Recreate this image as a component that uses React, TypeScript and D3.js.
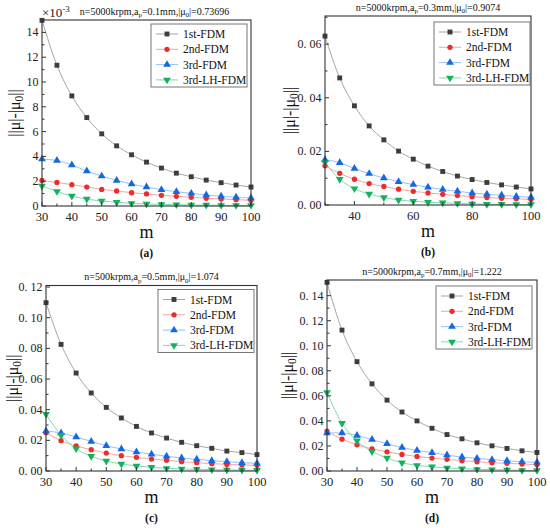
import React from 'react';
import * as d3 from 'd3';

// x values shared by every panel
const mValues = [30, 35, 40, 45, 50, 55, 60, 65, 70, 75, 80, 85, 90, 95, 100];
const seriesNames = ['1st-FDM', '2nd-FDM', '3rd-FDM', '3rd-LH-FDM'];

// panel titles
const speeds = ['5000', '5000', '500', '5000'];
const apValues = ['0.1', '0.3', '0.5', '0.7'];
const mu0Values = ['0.73696', '0.9074', '1.074', '1.222'];
const captions = ['(a)', '(b)', '(c)', '(d)'];

// (a) values in units of 1e-3
const a1st = [14.97, 11.35, 8.88, 7.13, 5.82, 4.85, 4.13, 3.54, 3.06, 2.65, 2.36, 2.09, 1.88, 1.69, 1.53];
const a2nd = [2.06, 1.9, 1.72, 1.53, 1.34, 1.21, 1.07, 0.97, 0.86, 0.78, 0.7, 0.62, 0.56, 0.51, 0.46];
const a3rd = [3.78, 3.67, 3.3, 2.82, 2.41, 2.06, 1.77, 1.53, 1.31, 1.15, 1.02, 0.88, 0.78, 0.7, 0.64];
const aLH = [1.61, 1.18, 0.8, 0.56, 0.4, 0.3, 0.21, 0.16, 0.13, 0.11, 0.08, 0.08, 0.05, 0.05, 0.05];

// (b)
const b1st = [0.063, 0.0474, 0.037, 0.0295, 0.0243, 0.0201, 0.0171, 0.0145, 0.0125, 0.0108, 0.0095, 0.0084, 0.0075, 0.0067, 0.006];
const b2nd = [0.0146, 0.0118, 0.0096, 0.008, 0.0069, 0.0059, 0.0051, 0.0045, 0.004, 0.0035, 0.0031, 0.0028, 0.0025, 0.0023, 0.0021];
const b3rd = [0.0169, 0.0158, 0.0136, 0.0117, 0.0101, 0.0087, 0.0076, 0.0066, 0.0058, 0.0051, 0.0045, 0.004, 0.0036, 0.0032, 0.0029];
const bLH = [0.0158, 0.0096, 0.0061, 0.0041, 0.0028, 0.0019, 0.0014, 0.001, 0.0008, 0.0006, 0.0004, 0.0003, 0.0003, 0.0002, 0.0002];

// (c)
const c1st = [0.1098, 0.0826, 0.0639, 0.0509, 0.0415, 0.0346, 0.0291, 0.0248, 0.0215, 0.0187, 0.0165, 0.0148, 0.013, 0.012, 0.0107];
const c2nd = [0.025, 0.0198, 0.0163, 0.0139, 0.0117, 0.01, 0.0089, 0.0078, 0.007, 0.0061, 0.0054, 0.0048, 0.0043, 0.0039, 0.0037];
const c3rd = [0.0261, 0.0248, 0.0222, 0.0193, 0.0165, 0.0143, 0.0124, 0.0109, 0.0096, 0.0085, 0.0076, 0.0067, 0.0061, 0.0054, 0.005];
const cLH = [0.037, 0.0233, 0.0146, 0.0096, 0.0065, 0.0046, 0.0033, 0.0024, 0.0017, 0.0013, 0.0011, 0.0009, 0.0007, 0.0006, 0.0005];

// (d)
const d1st = [0.1506, 0.1125, 0.0873, 0.0696, 0.0566, 0.0471, 0.04, 0.0341, 0.0291, 0.0257, 0.0225, 0.0201, 0.018, 0.0161, 0.0148];
const d2nd = [0.0318, 0.0254, 0.0209, 0.0177, 0.0153, 0.0132, 0.0116, 0.0103, 0.0093, 0.0082, 0.0074, 0.0066, 0.0061, 0.0056, 0.005];
const d3rd = [0.0304, 0.0304, 0.0283, 0.0251, 0.0217, 0.0188, 0.0164, 0.0146, 0.0127, 0.0111, 0.0101, 0.009, 0.0082, 0.0074, 0.0069];
const dLH = [0.0627, 0.0381, 0.0241, 0.0156, 0.0103, 0.0066, 0.0045, 0.0034, 0.0024, 0.0019, 0.0013, 0.0011, 0.0008, 0.0005, 0.0005];

// axis ticks
const aYTicks = [0, 2, 4, 6, 8, 10, 12, 14];
const bYTicks = [0, 0.02, 0.04, 0.06];
const cYTicks = [0, 0.02, 0.04, 0.06, 0.08, 0.1, 0.12];
const dYTicks = [0, 0.02, 0.04, 0.06, 0.08, 0.1, 0.12, 0.14];
const xTicks10 = [30, 40, 50, 60, 70, 80, 90, 100];
const xTicks20 = [40, 60, 80, 100];

const lineColors = ['#a6a6a6', '#f7a4a4', '#93c2f5', '#7fdcb0'];
const markerColors = ['#3d3d3d', '#ef2b2b', '#1667e2', '#13b25e'];
const FONT = "'Liberation Serif', 'Times New Roman', serif";

type Panel = {
  series: number[][];
  yMax: number;
  yTicks: number[];
  yMinorStep: number;
  xTicks: number[];
  xMinorStep: number;
  fmt: (v: number) => string;
  box: { left: number; top: number; right: number; bottom: number };
  yLabelX: number;
  legendDx: number;
  legendDy: number;
};

// the source renders decimals with a wide point, e.g. "0. 06"
const dotFmt = (v: number) => d3.format('.2f')(v).replace('.', '. ');

const panels: Panel[] = [
  {
    series: [a1st, a2nd, a3rd, aLH], yMax: 15, yTicks: aYTicks, yMinorStep: 1,
    xTicks: xTicks10, xMinorStep: 5, fmt: (v) => String(v),
    box: { left: 42, top: 20, right: 251, bottom: 206 }, yLabelX: 15, legendDx: 4, legendDy: 4,
  },
  {
    series: [b1st, b2nd, b3rd, bLH], yMax: 0.0705, yTicks: bYTicks, yMinorStep: 0.01,
    xTicks: xTicks20, xMinorStep: 10, fmt: dotFmt,
    box: { left: 325, top: 16, right: 531, bottom: 205 }, yLabelX: 290, legendDx: 1, legendDy: 6,
  },
  {
    series: [c1st, c2nd, c3rd, cLH], yMax: 0.121, yTicks: cYTicks, yMinorStep: 0.01,
    xTicks: xTicks10, xMinorStep: 5, fmt: dotFmt,
    box: { left: 46, top: 285.5, right: 257, bottom: 471 }, yLabelX: 13, legendDx: 3, legendDy: 4,
  },
  {
    series: [d1st, d2nd, d3rd, dLH], yMax: 0.1525, yTicks: dYTicks, yMinorStep: 0.01,
    xTicks: xTicks10, xMinorStep: 5, fmt: dotFmt,
    box: { left: 327, top: 280, right: 537, bottom: 471 }, yLabelX: 288, legendDx: 5, legendDy: 6,
  },
];

const symbolPath = (i: number) => {
  const types = [d3.symbolSquare, d3.symbolCircle, d3.symbolTriangle, d3.symbolTriangle];
  const sizes = [24, 22, 26, 26];
  return d3.symbol().type(types[i]).size(sizes[i])() ?? '';
};

const Marker = ({ i, x, y }: { i: number; x: number; y: number }) => (
  <path
    d={symbolPath(i)}
    transform={`translate(${x},${y})${i === 3 ? ' rotate(180)' : ''}`}
    fill={markerColors[i]}
  />
);

const ChartPanel = ({ p, idx }: { p: Panel; idx: number }) => {
  const { left, top, right, bottom } = p.box;
  const x = d3.scaleLinear().domain([30, 100]).range([left, right]);
  const y = d3.scaleLinear().domain([0, p.yMax]).range([bottom, top]);
  const line = d3
    .line<number>()
    .x((_, i) => x(mValues[i]))
    .y((d) => y(d))
    .curve(d3.curveMonotoneX);

  const xMinor = d3.range(30, 100.001, p.xMinorStep).filter((v) => !p.xTicks.includes(v));
  const yMinor = d3
    .range(0, p.yMax, p.yMinorStep)
    .filter((v) => !p.yTicks.some((t) => Math.abs(t - v) < 1e-9));
  const cx = (left + right) / 2;
  const cy = (top + bottom) / 2;

  const legW = 96;
  const legX = right - p.legendDx - legW;
  const legY = top + p.legendDy;

  return (
    <g style={{ fontFamily: FONT }}>
      {/* title */}
      <text x={cx + (idx === 0 ? 8 : 0)} y={top - 5.5} textAnchor="middle" fontSize={10} fill="#111">
        {`n=${speeds[idx]}krpm,a`}
        <tspan dy={2.5} fontSize={7}>p</tspan>
        <tspan dy={-2.5}>{`=${apValues[idx]}mm,|μ`}</tspan>
        <tspan dy={2.5} fontSize={7}>0</tspan>
        <tspan dy={-2.5}>{`|=${mu0Values[idx]}`}</tspan>
      </text>

      {/* series */}
      {p.series.map((s, si) => (
        <path key={`l${si}`} d={line(s) ?? ''} fill="none" stroke={lineColors[si]} strokeWidth={1} />
      ))}
      {p.series.map((s, si) =>
        s.map((v, i) => <Marker key={`m${si}-${i}`} i={si} x={x(mValues[i])} y={y(v)} />)
      )}

      {/* frame */}
      <rect x={left} y={top} width={right - left} height={bottom - top} fill="none" stroke="#333" strokeWidth={1.1} />

      {/* x ticks */}
      {p.xTicks.map((t) => (
        <g key={`xt${t}`}>
          <line x1={x(t)} x2={x(t)} y1={bottom} y2={bottom - 4} stroke="#333" />
          <text x={x(t)} y={bottom + 15} textAnchor="middle" fontSize={12.5} fill="#222">
            {t}
          </text>
        </g>
      ))}
      {xMinor.map((t) => (
        <line key={`xm${t}`} x1={x(t)} x2={x(t)} y1={bottom} y2={bottom - 2.5} stroke="#333" />
      ))}

      {/* y ticks */}
      {p.yTicks.map((t) => (
        <g key={`yt${t}`}>
          <line x1={left} x2={left + 4} y1={y(t)} y2={y(t)} stroke="#333" />
          <text x={left - 3.5} y={y(t) + 4} textAnchor="end" fontSize={12} fill="#222">
            {p.fmt(t)}
          </text>
        </g>
      ))}
      {yMinor.map((t) => (
        <line key={`ym${t}`} x1={left} x2={left + 2.5} y1={y(t)} y2={y(t)} stroke="#333" />
      ))}

      {idx === 0 && (
        <text x={left} y={top - 3} fontSize={13} fill="#222">
          ×10
          <tspan dy={-5} fontSize={9}>-3</tspan>
        </text>
      )}

      {/* axis labels; yLabelX is the visual centre, baseline sits a little to the right */}
      <text
        transform={`translate(${p.yLabelX + 4.5},${cy}) rotate(-90)`}
        textAnchor="middle"
        fontSize={16}
        fill="#111"
      >
        ||μ|-|μ
        <tspan dy={3.5} fontSize={11.5}>0</tspan>
        <tspan dy={-3.5}>||</tspan>
      </text>
      <text x={cx} y={bottom + 32} textAnchor="middle" fontSize={18} fill="#111">
        m
      </text>
      <text x={cx} y={bottom + 51} textAnchor="middle" fontSize={11.5} fontWeight="bold" fill="#111">
        {captions[idx]}
      </text>

      {/* legend */}
      <rect x={legX} y={legY} width={legW} height={63} fill="#fff" stroke="#777" strokeWidth={1} />
      {seriesNames.map((n, si) => {
        const ry = legY + 10 + si * 15.3;
        return (
          <g key={n}>
            <line x1={legX + 5} x2={legX + 27} y1={ry} y2={ry} stroke={lineColors[si]} strokeWidth={1} />
            <Marker i={si} x={legX + 16} y={ry} />
            <text x={legX + 32} y={ry + 4} fontSize={11.5} fill="#111">
              {n}
            </text>
          </g>
        );
      })}
    </g>
  );
};

export default function App() {
  return (
    <svg
      width={550}
      height={528}
      style={{ position: 'absolute', left: 0, top: 0, background: '#fff' }}
    >
      <rect width={550} height={528} fill="#fff" />
      {panels.map((p, i) => (
        <ChartPanel key={i} p={p} idx={i} />
      ))}
    </svg>
  );
}
